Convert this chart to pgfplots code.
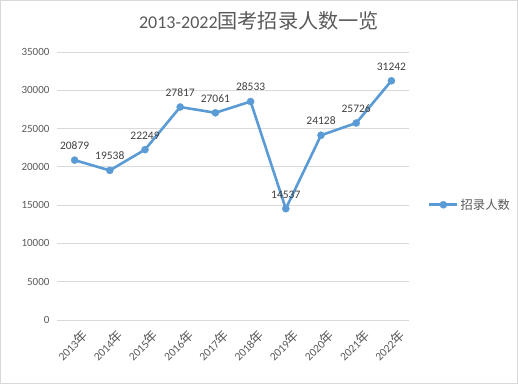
\documentclass[border=0pt]{standalone}
\usepackage{pgfplots}
\pgfplotsset{compat=1.18}
\usepackage{fontspec}
\setmainfont{Carlito}
\newfontfamily\cjk[Scale=1.12]{Noto Sans CJK SC}
\definecolor{lineblue}{HTML}{5B9BD5}
\definecolor{gridgray}{HTML}{D9D9D9}
\definecolor{txtgray}{HTML}{595959}
\definecolor{lbl}{HTML}{404040}
\begin{document}
\begin{tikzpicture}[x=1pt,y=1pt]
\draw[gridgray, line width=1pt] (0.5,0.5) rectangle (517.5,383.5);
\node[font=\fontsize{18}{20}\selectfont, text=txtgray] at (259,363) {2013-2022{\cjk 国考招录人数一览}};
\begin{axis}[
  at={(57pt,64pt)}, anchor=south west,
  scale only axis, width=352pt, height=268pt,
  xmin=-0.5, xmax=9.5, ymin=0, ymax=35000,
  ytick={0,5000,10000,15000,20000,25000,30000,35000},
  xtick={0,...,9},
  xticklabels={2013{\cjk 年},2014{\cjk 年},2015{\cjk 年},2016{\cjk 年},2017{\cjk 年},2018{\cjk 年},2019{\cjk 年},2020{\cjk 年},2021{\cjk 年},2022{\cjk 年}},
  x tick label style={rotate=45, anchor=north east, font=\fontsize{11.5}{13}\selectfont, text=txtgray, xshift=2pt, yshift=-7pt},
  y tick label style={font=\fontsize{11}{13}\selectfont, text=txtgray, xshift=-4pt},
  /pgf/number format/assume math mode=true,
  /pgf/number format/1000 sep={},
  scaled y ticks=false,
  ymajorgrids, grid style={gridgray, line width=0.8pt},
  axis line style={draw=none},
  major tick length=0pt,
  clip=false,
  nodes near coords,
  every node near coord/.append style={font=\fontsize{11.5}{13}\selectfont, text=lbl, yshift=7pt},
  legend style={at={(1.045,0.43)}, anchor=west, draw=none, fill=none, font=\fontsize{11}{13}\selectfont, text=txtgray},
  legend image code/.code={\draw[#1, mark repeat=2, mark phase=2] plot coordinates {(0pt,0pt) (14pt,0pt) (28pt,0pt)};},
]
\addplot[color=lineblue, line width=2.6pt, mark=*, mark size=3.6pt, mark options={fill=lineblue, draw=lineblue, line width=0.3pt}]
  coordinates {(0,20879) (1,19538) (2,22249) (3,27817) (4,27061) (5,28533) (6,14537) (7,24128) (8,25726) (9,31242)};
\addlegendentry{\cjk 招录人数}
\end{axis}
\end{tikzpicture}
\end{document}
